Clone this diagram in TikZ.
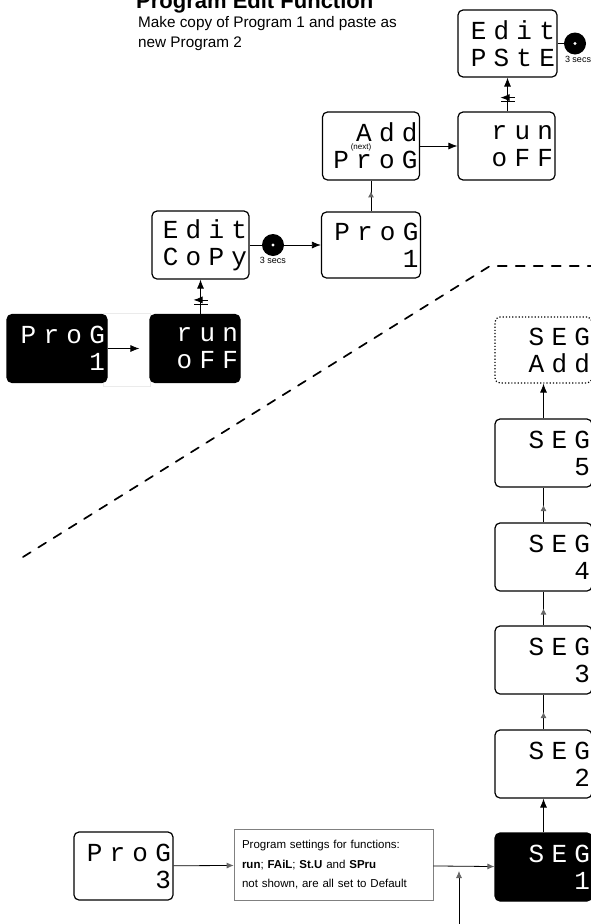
\documentclass[tikz,border=0pt]{standalone}
\usepackage{fontspec}
\setmainfont{Liberation Sans}
\newfontfamily\segfont[LetterSpace=28]{Liberation Mono}
\usetikzlibrary{arrows.meta,decorations.markings}

\tikzset{
  disp/.style={draw, line width=1.2pt, rounded corners=5pt, minimum width=97pt,
    minimum height=68pt, inner xsep=2pt, inner ysep=0pt, text width=93pt,
    align=right, font=\segfont\fontsize{26}{27}\selectfont},
  dispdark/.style={disp, fill=black, text=white},
  knob/.style={circle, fill=black, minimum size=22pt, inner sep=0pt,
    path picture={\fill[white] (path picture bounding box.center) circle (1.6pt);}},
  fwd/.style={line width=0.8pt, -{Latex[length=9pt,width=7pt]}},
  tipend/.style={line width=0.8pt, -{Latex[length=7pt,width=6pt,color=black!60]}},
  midtip/.style={line width=0.8pt, postaction={decorate, decoration={markings,
    mark=at position #1 with {\arrow[black!60]{Latex[length=6pt,width=6pt]}}}}},
  midtip/.default=.5,
  hold/.style={postaction={decorate, decoration={markings,
    mark=at position .35 with {\draw[line width=0.8pt] (-2pt,-7pt) -- (-2pt,7pt) (2pt,-7pt) -- (2pt,7pt);}}}},
  divider/.style={line width=1.7pt, dash pattern=on 9pt off 9pt, line cap=round},
  small/.style={font=\fontsize{9}{10}\selectfont, inner sep=1pt},
}

\begin{document}
\begin{tikzpicture}[x=1pt, y=-1pt]
  \useasboundingbox (0,0) rectangle (591,924);

  % heading
  \node[anchor=base west, inner sep=0pt, font=\bfseries\fontsize{22}{24}\selectfont] (title) at (136,8) {Program Edit Function};
  \node[anchor=base west, inner sep=0pt, font=\fontsize{15.3}{18}\selectfont] (sub1) at (138,27) {Make copy of Program 1 and paste as};
  \node[anchor=base west, inner sep=0pt, font=\fontsize{15.3}{18}\selectfont] (sub2) at (138,47) {new Program 2};

  % divider
  \draw[divider] (23,557) -- (490,266) -- (600,266);

  % copy stage
  \node[fill=white, draw=black!8, minimum width=47pt, minimum height=73pt] (gap) at (126.5,349.5) {};
  \node[dispdark, minimum width=100pt, text width=96pt] (progK) at (57,348.5) {ProG\\1};
  \node[dispdark, minimum width=90pt, text width=86pt] (runK) at (195,348.5) {run\\oFF};
  \node[disp] (copy) at (200.5,245) {Edit\\CoPy};
  \node[knob, label={[small]below:3 secs}] (btnA) at (273,245) {};
  \node[disp, minimum width=99pt, text width=95pt, minimum height=66pt] (progA) at (371,245) {ProG\\1};

  % paste stage
  \node[disp] (addprog) at (371,146) {Add\\ProG};
  \node[small, font=\fontsize{8}{9}\selectfont] (next) at (361,147) {(next)};
  \node[disp] (runA) at (506.5,146) {run\\oFF};
  \node[disp, minimum width=99pt, text width=95pt, minimum height=67pt] (pste) at (507.5,43.5) {Edit\\PStE};
  \node[knob, label={[small, xshift=3pt]below:3 secs}] (btnB) at (575,43.5) {};

  % segments
  \node[disp, dotted, minimum height=66pt] (segadd) at (543.5,350) {SEG\\Add};
  \node[disp] (seg5) at (543.5,453) {SEG\\5};
  \node[disp] (seg4) at (543.5,557) {SEG\\4};
  \node[disp] (seg3) at (543.5,660) {SEG\\3};
  \node[disp] (seg2) at (543.5,764) {SEG\\2};
  \node[dispdark] (seg1) at (543.5,867) {SEG\\1};

  % program 3
  \node[disp, minimum width=99pt, text width=95pt] (prog3) at (123.5,866) {ProG\\3};
  \node[draw=black!50, line width=0.6pt, minimum width=199pt, minimum height=71pt,
    inner xsep=8pt, text width=183pt, align=left, font=\fontsize{11.5}{19.5}\selectfont] (note) at (333.5,865)
    {Program settings for functions:\\\textbf{run}; \textbf{FAiL}; \textbf{St.U} and \textbf{SPru}\\not shown, are all set to Default};
  \coordinate (feed) at (459,924);
  \coordinate (feedend) at (459,871);

  % connectors
  \draw[fwd, shorten >=10pt] (progK) -- (runK);
  \draw[fwd, hold] (runK.north -| copy.south) -- (copy.south);
  \draw[line width=0.8pt] (copy) -- (btnA);
  \draw[fwd] (btnA) -- (progA);
  \draw[midtip=.65] (progA) -- (addprog);
  \draw[fwd] (addprog) -- (runA);
  \draw[fwd, hold] (runA.north -| pste.south) -- (pste.south);
  \draw[line width=0.8pt] (pste) -- (btnB);

  \draw[fwd] (seg1) -- (seg2);
  \draw[midtip] (seg2) -- (seg3);
  \draw[midtip] (seg3) -- (seg4);
  \draw[midtip] (seg4) -- (seg5);
  \draw[fwd] (seg5) -- (segadd);

  \draw[tipend] (prog3) -- (note);
  \draw[tipend] (note) -- (seg1);
  \draw[tipend] (feed) -- (feedend);
\end{tikzpicture}
\end{document}
